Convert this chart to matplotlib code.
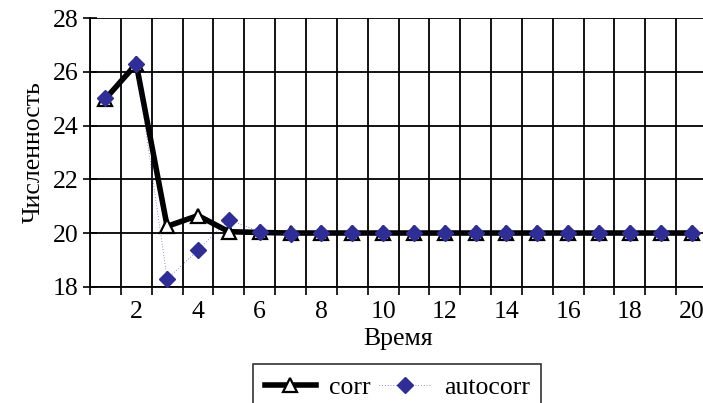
import matplotlib
matplotlib.use("Agg")
import matplotlib.pyplot as plt
import numpy as np

plt.rcParams['font.family'] = ['Liberation Serif', 'DejaVu Serif']

time = list(range(1, 21))
corr = [25.0, 26.3, 20.25, 20.65, 20.05, 20.02, 20.0, 20.0, 20.0, 20.0,
        20.0, 20.0, 20.0, 20.0, 20.0, 20.0, 20.0, 20.0, 20.0, 20.0]
autocorr = [25.03, 26.3, 18.3, 19.35, 20.5, 20.05, 19.97, 20.0, 20.0, 20.0,
            20.0, 20.0, 20.0, 20.0, 20.0, 20.0, 20.0, 20.0, 20.0, 20.0]
xtick_labels = [2, 4, 6, 8, 10, 12, 14, 16, 18, 20]
ytick_values = [18, 20, 22, 24, 26, 28]

W, H = 703, 403
fig = plt.figure(figsize=(W / 100, H / 100), dpi=100)
left, right, top, bottom = 90, 707, 18.3, 286.7
ax = fig.add_axes([left / W, 1 - bottom / H, (right - left) / W, (bottom - top) / H])

FS = 18.5
blue = '#2E2E96'
ax.plot(time, corr, color='black', lw=4.0, marker='^', markersize=9.5,
        markerfacecolor='white', markeredgecolor='black', markeredgewidth=1.6,
        label='corr', zorder=3, solid_joinstyle='miter')
ax.plot(time, autocorr, color=blue, lw=0.5, ls=(0, (1, 3)), marker='D',
        markersize=8, markerfacecolor=blue, markeredgecolor=blue,
        label='autocorr', zorder=4)

ax.set_xlim(0.5, 20.5)
ax.set_ylim(18, 28)

bounds = np.arange(0.5, 21.0, 1.0)
ax.set_xticks(bounds)
ax.set_xticklabels([''] * len(bounds))
ax.set_xticks(xtick_labels, minor=True)
ax.set_xticklabels([str(v) for v in xtick_labels], minor=True)
ax.tick_params(axis='x', which='major', direction='out', length=6, width=1.2,
               color='black')
ax.tick_params(axis='x', which='minor', length=0, pad=10, labelsize=FS)
ax.set_yticks(ytick_values)
ax.tick_params(axis='y', direction='inout', length=10, width=1.2,
               labelsize=FS, pad=3)

ax.grid(True, which='major', color='black', lw=1.3)
ax.set_axisbelow(True)
for s in ['top', 'right']:
    ax.spines[s].set_visible(False)
for s in ['left', 'bottom']:
    ax.spines[s].set_linewidth(1.3)

ax.set_xlabel('Время', fontsize=FS, labelpad=4)
ax.set_ylabel('Численность', fontsize=FS, labelpad=6)

leg = fig.legend(loc='upper left', bbox_to_anchor=(253 / W, 1 - 364 / H),
                 borderaxespad=0, ncol=2, fontsize=FS, frameon=True,
                 fancybox=False, edgecolor='black', handlelength=2.0,
                 columnspacing=0.35, handletextpad=0.5, borderpad=0.45)
leg.get_frame().set_linewidth(1.2)

fig.savefig('out.png', dpi=100)
